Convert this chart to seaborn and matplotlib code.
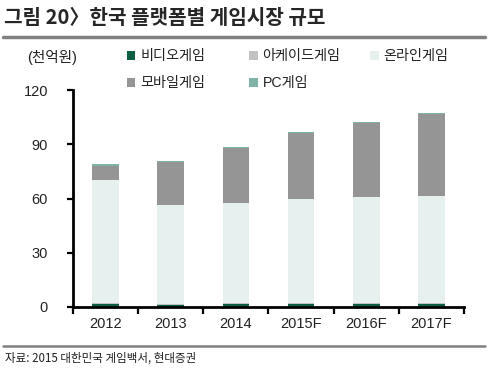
import matplotlib
matplotlib.use("Agg")
import matplotlib.pyplot as plt
from matplotlib.patches import Patch
from matplotlib.lines import Line2D
import seaborn as sns
import numpy as np
import pandas as pd

years = ["2012", "2013", "2014", "2015F", "2016F", "2017F"]
video = [1.6, 0.9, 1.7, 1.8, 1.8, 1.8]
arcade = [0.8, 0.8, 0.6, 0.6, 0.6, 0.6]
online = [67.8, 54.5, 55.4, 57.3, 58.3, 59.2]
mobile = [8.0, 24.0, 30.2, 36.7, 41.0, 45.3]
pc = [0.7, 0.5, 0.5, 0.5, 0.5, 0.5]

series_names = ["비디오게임", "아케이드게임", "온라인게임", "모바일게임", "PC게임"]
series_vals = [video, arcade, online, mobile, pc]
colors = ["#0b5e43", "#c2c2c2", "#e6f0ee", "#959595", "#7fb3a7"]
yticks = [0, 30, 60, 90, 120]

sns.set_theme(style="white")
FONTS = ["Liberation Sans", "Noto Sans CJK KR", "DejaVu Sans"]
plt.rcParams["font.family"] = FONTS

fig = plt.figure(figsize=(4.88, 3.79), dpi=100)
ax = fig.add_axes([73 / 488, 72 / 379, 391 / 488, 217 / 379])

bottom = np.zeros(len(years))
for name, vals, col in zip(series_names, series_vals, colors):
    df = pd.DataFrame({"year": years, "value": vals})
    sns.barplot(data=df, x="year", y="value", order=years, color=col,
                width=0.41, bottom=bottom.copy(), ax=ax, saturation=1,
                linewidth=0, errorbar=None)
    bottom += np.array(vals)

ax.set_xlim(-0.5, 5.5)
ax.set_ylim(0, 120)
ax.set_yticks(yticks)
ax.set_yticklabels([str(t) for t in yticks], fontsize=10.5, color="#222222")
ax.set_xticks(np.arange(-0.5, 6, 1), minor=False)
ax.set_xticklabels([""] * 7)
ax.set_xticks(np.arange(6), minor=True)
ax.set_xticklabels(years, minor=True, fontsize=10.5, color="#222222")
ax.tick_params(axis="x", which="major", direction="out", length=5, width=1.6,
               bottom=True, color="black")
ax.tick_params(axis="x", which="minor", length=0, pad=7)
ax.tick_params(axis="y", direction="out", length=4, width=1.6, left=True,
               color="black", pad=14)
ax.set_xlabel("")
ax.set_ylabel("")
for s in ["top", "right"]:
    ax.spines[s].set_visible(False)
for s in ["left", "bottom"]:
    ax.spines[s].set_linewidth(2)
    ax.spines[s].set_color("black")
ax.grid(False)

# Title and decorations
fig.text(4 / 488, 1 - 18 / 379, "그림 20〉한국 플랫폼별 게임시장 규모",
         fontsize=14.5, fontweight="bold", va="center", ha="left",
         family=["Noto Sans CJK KR"])
fig.add_artist(Line2D([3 / 488, 485 / 488], [1 - 37 / 379, 1 - 37 / 379],
                      color="#808080", linewidth=2.5, transform=fig.transFigure))
fig.add_artist(Line2D([3 / 488, 485 / 488], [1 - 346 / 379, 1 - 346 / 379],
                      color="#808080", linewidth=1.8, transform=fig.transFigure))
fig.text(5 / 488, 1 - 358 / 379, "자료: 2015 대한민국 게임백서, 현대증권",
         fontsize=8.3, va="center", ha="left", color="#222222",
         family=["Noto Sans CJK KR"])
fig.text(27 / 488, 1 - 57 / 379, "(천억원)", fontsize=10.5, va="center",
         ha="left", color="#222222", family=FONTS)

# Legend: three columns placed at fixed positions, filled row by row
handles = [Patch(facecolor=c, edgecolor="none", label=n)
           for n, c in zip(series_names, colors)]
col_x = [127, 249, 370]
for ci, x in enumerate(col_x):
    hs = handles[ci::3]
    leg = fig.legend(handles=hs, loc="upper left",
                     bbox_to_anchor=(x / 488, 1 - 49 / 379), ncol=1,
                     frameon=False, fontsize=10.2, handlelength=0.6,
                     handleheight=0.6, handletextpad=0.35,
                     labelspacing=0.95, borderpad=0, borderaxespad=0)
    for t in leg.get_texts():
        t.set_color("#222222")

fig.savefig("out.png", dpi=100, facecolor="white")
